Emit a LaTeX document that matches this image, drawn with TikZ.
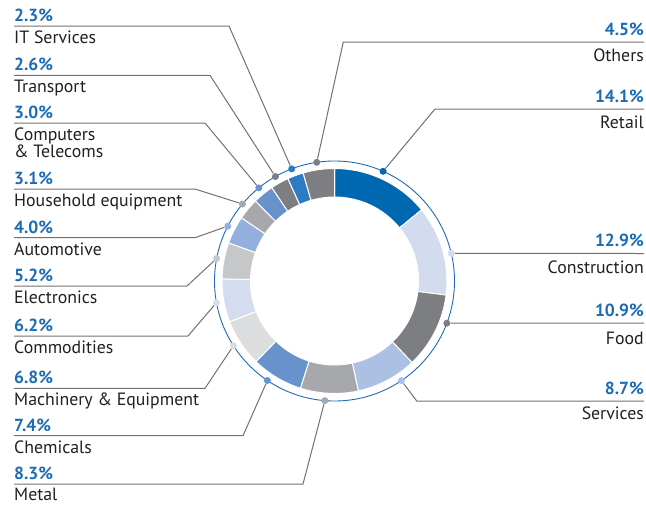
\documentclass[tikz,border=0pt]{standalone}
\usepackage{fontspec}
\setmainfont{PT Sans}
\definecolor{pctblue}{HTML}{1B6CB5}
\definecolor{ringblue}{HTML}{1B6CB5}
\definecolor{leadgray}{HTML}{707173}
\definecolor{lbltext}{HTML}{231F20}
\definecolor{cRetail}{HTML}{0067B1}
\definecolor{cConstr}{HTML}{D3DCEF}
\definecolor{cFood}{HTML}{7D7E82}
\definecolor{cServ}{HTML}{ABC0E3}
\definecolor{cMetal}{HTML}{A7A8AB}
\definecolor{cChem}{HTML}{6792CC}
\definecolor{cMach}{HTML}{DCDDDF}
\definecolor{cComm}{HTML}{D4DDEF}
\definecolor{cElec}{HTML}{C6C7C9}
\definecolor{cAuto}{HTML}{93AFDD}
\definecolor{cHouse}{HTML}{A7A8AB}
\definecolor{cComp}{HTML}{6792CC}
\definecolor{cTrans}{HTML}{7D7E82}
\definecolor{cIT}{HTML}{2C7CC3}
\definecolor{cOthers}{HTML}{7D7E82}

\tikzset{
  pct/.style={anchor=base west, inner sep=0pt, text=pctblue,
    font=\fontsize{17.5}{17.5}\selectfont\bfseries},
  pctr/.style={pct, anchor=base east},
  lbl/.style={anchor=base west, inner sep=0pt, text=lbltext,
    font=\fontsize{17.8}{17.8}\selectfont},
  lblr/.style={lbl, anchor=base east},
  leader/.style={draw=leadgray, line width=1pt},
  segdot/.style={circle, inner sep=0pt, minimum size=7pt},
}

\begin{document}
\begin{tikzpicture}[x=1pt,y=-1pt]
\useasboundingbox (0,0) rectangle (646,504);

% ring
\begin{scope}[shift={(334.5,281)}]
  \foreach \s/\e/\col in {0/14.1/cRetail, 14.1/27/cConstr, 27/37.9/cFood,
      37.9/46.6/cServ, 46.6/54.9/cMetal, 54.9/62.3/cChem, 62.3/69.1/cMach,
      69.1/75.3/cComm, 75.3/80.5/cElec, 80.5/84.5/cAuto, 84.5/87.6/cHouse,
      87.6/90.6/cComp, 90.6/93.2/cTrans, 93.2/95.5/cIT, 95.5/100/cOthers}{
    \pgfmathsetmacro\a{\s*3.6-90}
    \pgfmathsetmacro\b{\e*3.6-90}
    \filldraw[fill=\col, draw=white, line width=1pt]
      (\a:84) -- (\a:112.5) arc[start angle=\a, end angle=\b, radius=112.5]
      -- (\b:84) arc[start angle=\b, end angle=\a, radius=84] -- cycle;
  }
  \draw[ringblue, line width=0.9pt] (0,0) circle[radius=120];
  \node[segdot, fill=cRetail] (dRetail) at (-66.1:120) {};
  \node[segdot, fill=cConstr] (dConstr) at (-13.3:120) {};
  \node[segdot, fill=cFood] (dFood) at (20.6:120) {};
  \node[segdot, fill=cServ] (dServ) at (56.1:120) {};
  \node[segdot, fill=cMetal] (dMetal) at (94.6:120) {};
  \node[segdot, fill=cChem] (dChem) at (124:120) {};
  \node[segdot, fill=cMach] (dMach) at (147.4:120) {};
  \node[segdot, fill=cComm] (dComm) at (169.6:120) {};
  \node[segdot, fill=cElec] (dElec) at (190.8:120) {};
  \node[segdot, fill=cAuto] (dAuto) at (207.2:120) {};
  \node[segdot, fill=cHouse] (dHouse) at (219.9:120) {};
  \node[segdot, fill=cComp] (dComp) at (230.9:120) {};
  \node[segdot, fill=cTrans] (dTrans) at (240.5:120) {};
  \node[segdot, fill=cIT] (dIT) at (249.1:120) {};
  \node[segdot, fill=cOthers] (dOthers) at (261.5:120) {};
\end{scope}

% left labels
\coordinate (uIT) at (14,26);       \coordinate (kIT) at (229,26);
\coordinate (uTrans) at (14,75.3);  \coordinate (kTrans) at (210,75.3);
\coordinate (uComp) at (14,123);    \coordinate (kComp) at (205,123);
\coordinate (uHouse) at (14,189);   \coordinate (kHouse) at (195,189);
\coordinate (uAuto) at (14,237.7);  \coordinate (kAuto) at (195,237.7);
\coordinate (uElec) at (14,286);    \coordinate (kElec) at (187,286);
\coordinate (uComm) at (14,336);    \coordinate (kComm) at (188,336);
\coordinate (uMach) at (14,388.3);  \coordinate (kMach) at (205,388.3);
\coordinate (uChem) at (14,435.7);  \coordinate (kChem) at (243,435.7);
\coordinate (uMetal) at (14,484);   \coordinate (kMetal) at (303,484);

\draw[leader] (dIT) -- (kIT) -- (uIT);
\draw[leader] (dTrans) -- (kTrans) -- (uTrans);
\draw[leader] (dComp) -- (kComp) -- (uComp);
\draw[leader] (dHouse) -- (kHouse) -- (uHouse);
\draw[leader] (dAuto) -- (kAuto) -- (uAuto);
\draw[leader] (dElec) -- (kElec) -- (uElec);
\draw[leader] (dComm) -- (kComm) -- (uComm);
\draw[leader] (dMach) -- (kMach) -- (uMach);
\draw[leader] (dChem) -- (kChem) -- (uChem);
\draw[leader] (dMetal) -- (kMetal) -- (uMetal);

\node[pct] (pIT) at (14,21.5) {2.3\%};
\node[lbl] (nIT) at (14,43.5) {IT Services};
\node[pct] (pTrans) at (14,70.8) {2.6\%};
\node[lbl] (nTrans) at (14,92.8) {Transport};
\node[pct] (pComp) at (14,118.5) {3.0\%};
\node[lbl] (nComp) at (14,140.5) {Computers};
\node[lbl] (nComp2) at (14,157.5) {\& Telecoms};
\node[pct] (pHouse) at (14,184.5) {3.1\%};
\node[lbl] (nHouse) at (14,206.5) {Household equipment};
\node[pct] (pAuto) at (14,233.2) {4.0\%};
\node[lbl] (nAuto) at (14,255.2) {Automotive};
\node[pct] (pElec) at (14,281.5) {5.2\%};
\node[lbl] (nElec) at (14,303.5) {Electronics};
\node[pct] (pComm) at (14,331.5) {6.2\%};
\node[lbl] (nComm) at (14,353.5) {Commodities};
\node[pct] (pMach) at (14,383.8) {6.8\%};
\node[lbl] (nMach) at (14,405.8) {Machinery \& Equipment};
\node[pct] (pChem) at (14,431.2) {7.4\%};
\node[lbl] (nChem) at (14,453.2) {Chemicals};
\node[pct] (pMetal) at (14,479.5) {8.3\%};
\node[lbl] (nMetal) at (14,500) {Metal};

% right labels
\coordinate (uOthers) at (644,42);   \coordinate (kOthers) at (343.3,42);
\coordinate (uRetail) at (644,109);  \coordinate (kRetail) at (435,109);
\coordinate (uConstr) at (644,253.5);
\coordinate (uFood) at (644,323.2);
\coordinate (uServ) at (644,401);    \coordinate (kServ) at (416.7,401);

\draw[leader] (dOthers) -- (kOthers) -- (uOthers);
\draw[leader] (dRetail) -- (kRetail) -- (uRetail);
\draw[leader] (dConstr) -- (uConstr);
\draw[leader] (dFood) -- (uFood);
\draw[leader] (dServ) -- (kServ) -- (uServ);

\node[pctr] (pOthers) at (644,35) {4.5\%};
\node[lblr] (nOthers) at (644,61.5) {Others};
\node[pctr] (pRetail) at (644,102) {14.1\%};
\node[lblr] (nRetail) at (644,128.5) {Retail};
\node[pctr] (pConstr) at (644,246.5) {12.9\%};
\node[lblr] (nConstr) at (644,273.3) {Construction};
\node[pctr] (pFood) at (644,316.2) {10.9\%};
\node[lblr] (nFood) at (644,344) {Food};
\node[pctr] (pServ) at (644,394) {8.7\%};
\node[lblr] (nServ) at (644,419.5) {Services};
\end{tikzpicture}
\end{document}
